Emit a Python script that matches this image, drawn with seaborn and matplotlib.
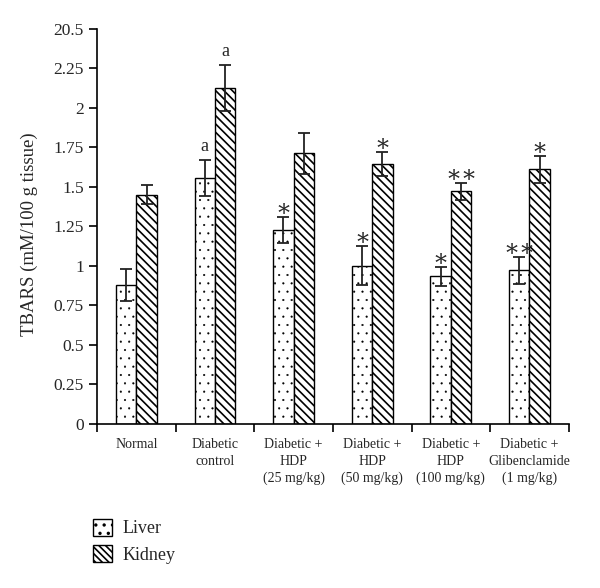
import numpy as np
import pandas as pd
import matplotlib
matplotlib.use("Agg")
import matplotlib.pyplot as plt
import seaborn as sns
from matplotlib.patches import Patch

groups = ["Normal", "Diabetic\ncontrol", "Diabetic +\nHDP\n(25 mg/kg)",
          "Diabetic +\nHDP\n(50 mg/kg)", "Diabetic +\nHDP\n(100 mg/kg)",
          "Diabetic +\nGlibenclamide\n(1 mg/kg)"]
tissues = ["Liver", "Kidney"]
liver = [0.88, 1.555, 1.228, 1.002, 0.933, 0.972]
liver_err = [0.10, 0.115, 0.08, 0.125, 0.06, 0.085]
kidney = [1.449, 2.125, 1.713, 1.643, 1.472, 1.612]
kidney_err = [0.06, 0.145, 0.13, 0.075, 0.055, 0.085]
liver_marks = ["", "a", "*", "*", "*", "**"]
kidney_marks = ["", "a", "", "*", "**", "*"]
yticks = [0, 0.25, 0.5, 0.75, 1, 1.25, 1.5, 1.75, 2, 2.25, 2.5]
ytick_labels = ["0", "0.25", "0.5", "0.75", "1", "1.25", "1.5", "1.75", "2", "2.25", "20.5"]

sns.set_theme(style="ticks")
plt.rcParams["font.family"] = ["Liberation Serif", "DejaVu Serif"]
plt.rcParams["hatch.linewidth"] = 1.2

df = pd.DataFrame({
    "group": groups * 2,
    "tissue": ["Liver"] * len(groups) + ["Kidney"] * len(groups),
    "value": liver + kidney,
})

fig = plt.figure(figsize=(6, 5.88), dpi=100)
ax = fig.add_axes([0.1617, 0.279, 0.948 - 0.1617, 0.951 - 0.279])
sns.barplot(data=df, x="group", y="value", hue="tissue", order=groups,
            hue_order=tissues, palette=["white", "white"], edgecolor="black",
            linewidth=1.0, width=0.52, errorbar=None, legend=False, ax=ax)

hatches = ["..", "\\\\\\\\"]
hatch_lw = [0.3, 1.2]
errs = [liver_err, kidney_err]
vals = [liver, kidney]
marks = [liver_marks, kidney_marks]


def style_hatch(p, idx):
    p.set_hatch(hatches[idx])
    if hasattr(p, "set_hatch_linewidth"):
        p.set_hatch_linewidth(hatch_lw[idx])


bar_containers = list(ax.containers[:2])
for ci, cont in enumerate(bar_containers):
    xs = []
    for bar in cont:
        style_hatch(bar, ci)
        bar.set_edgecolor("black")
        xs.append(bar.get_x() + bar.get_width() / 2)
    ax.errorbar(xs, vals[ci], yerr=errs[ci], fmt="none", ecolor="#222222",
                elinewidth=1.3, capsize=4, capthick=1.3)
    for x, v, e, m in zip(xs, vals[ci], errs[ci], marks[ci]):
        if m:
            if m == "a":
                ax.text(x, v + e + 0.03, m, ha="center", va="bottom", fontsize=13)
            else:
                ax.text(x, v + e - 0.02, m.replace("*", "\u2217"), ha="center",
                        va="bottom", fontsize=17)

ax.set_xlim(-0.5, len(groups) - 0.5)
ax.set_ylim(0, 2.5)
ax.set_yticks(yticks)
ax.set_yticklabels(ytick_labels, fontsize=12.5)
ax.set_xticks(range(len(groups)))
ax.set_xticklabels(groups, fontsize=10, linespacing=1.4)
ax.tick_params(axis="x", length=0, pad=10)
ax.set_xticks(np.arange(-0.5, len(groups)), minor=True)
ax.tick_params(axis="x", which="minor", length=6, width=1.2, color="black", direction="out")
ax.tick_params(axis="y", length=6, width=1.2, color="black", direction="out")
ax.set_xlabel("")
ax.set_ylabel("TBARS (mM/100 g tissue)", fontsize=13.5)
ax.yaxis.set_label_coords(-0.125, 0.48)
for s in ["top", "right"]:
    ax.spines[s].set_visible(False)
for s in ["left", "bottom"]:
    ax.spines[s].set_linewidth(1.2)
    ax.spines[s].set_color("black")

h_liver = Patch(facecolor="white", edgecolor="black", label="Liver")
style_hatch(h_liver, 0)
h_kidney = Patch(facecolor="white", edgecolor="black", hatch="\\\\\\\\\\", label="Kidney")
fig.legend(handles=[h_liver, h_kidney], loc="upper left", bbox_to_anchor=(0.143, 0.13),
           frameon=False, fontsize=13, handlelength=1.05, handleheight=1.05,
           handletextpad=0.6, labelspacing=0.45, borderaxespad=0)

fig.savefig("out.png", dpi=100)
